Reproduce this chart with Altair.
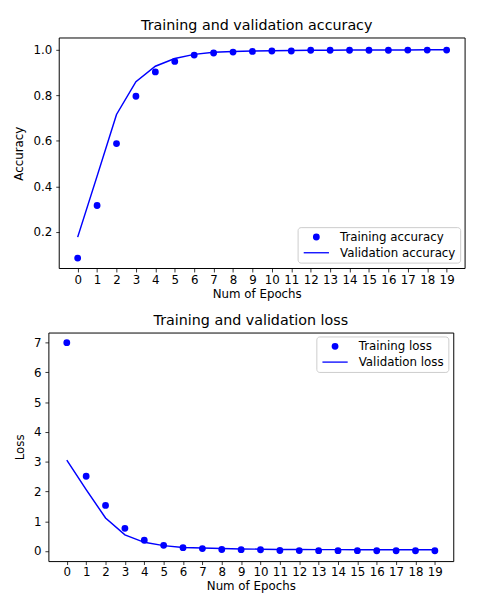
import altair as alt
import pandas as pd

epochs = list(range(20))
train_acc = [0.085, 0.316, 0.588, 0.796, 0.903, 0.949, 0.977, 0.986, 0.990, 0.993,
             0.995, 0.995, 0.998, 0.998, 0.998, 0.998, 0.998, 0.999, 0.999, 0.999]
val_acc = [0.177, 0.445, 0.716, 0.860, 0.928, 0.962, 0.980, 0.989, 0.993, 0.995,
           0.996, 0.997, 0.998, 0.998, 0.999, 0.999, 0.999, 0.999, 1.0, 1.0]
train_loss = [7.0, 2.51, 1.53, 0.76, 0.36, 0.19, 0.11, 0.08, 0.05, 0.045,
              0.04, 0.015, 0.012, 0.01, 0.01, 0.01, 0.008, 0.008, 0.007, 0.007]
val_loss = [3.05, 2.06, 1.11, 0.54, 0.29, 0.18, 0.12, 0.10, 0.08, 0.07,
            0.06, 0.05, 0.05, 0.045, 0.045, 0.04, 0.04, 0.04, 0.04, 0.04]

acc_y_ticks = [0.2, 0.4, 0.6, 0.8, 1.0]
loss_y_ticks = [0, 1, 2, 3, 4, 5, 6, 7]

# axis limits (matplotlib-style 5% margins)
x_limits = [-0.95, 19.95]
acc_y_limits = [0.039, 1.052]
loss_y_limits = [-0.34, 7.34]

BLUE = "#0000ff"
FONT = "DejaVu Sans"
LINE_SHAPE = "M-3.7,-0.19L3.7,-0.19L3.7,0.19L-3.7,0.19Z"


def legend(lx, ly):
    return alt.Legend(title=None, orient="none", legendX=lx, legendY=ly,
                      padding=4, strokeColor="#cccccc",
                      fillColor="white", cornerRadius=3,
                      symbolSize=48, symbolOffset=9,
                      labelOffset=18, rowPadding=3,
                      labelFont=FONT, labelFontSize=12,
                      labelColor="black", symbolFillColor=BLUE,
                      symbolOpacity=1)


def panel(train, val, train_name, val_name, title, ytitle, ylim, yticks, yfmt,
          leg_xy, w, h, x_left_extra=0.0, y_offset=0):
    df_t = pd.DataFrame({"epoch": epochs, "value": train, "series": train_name})
    df_v = pd.DataFrame({"epoch": epochs, "value": val, "series": val_name})
    xdom = [x_limits[0] - x_left_extra, x_limits[1]]
    x = alt.X("epoch:Q",
              scale=alt.Scale(domain=xdom, nice=False, zero=False),
              axis=alt.Axis(values=epochs, format="d", title="Num of Epochs",
                            labelAngle=0, labelPadding=2.5, titlePadding=3,
                            labelOverlap=False, labelFlush=False))
    y = alt.Y("value:Q",
              scale=alt.Scale(domain=ylim, nice=False, zero=False),
              axis=alt.Axis(values=yticks, format=yfmt, title=ytitle,
                            labelPadding=4, titlePadding=7.5, offset=y_offset,
                            labelOverlap=False, labelFlush=False))
    pts = alt.Chart(df_t).mark_point(filled=True, size=48, opacity=1, color=BLUE).encode(
        x=x, y=y,
        shape=alt.Shape("series:N",
                        scale=alt.Scale(domain=[train_name, val_name],
                                        range=["circle", LINE_SHAPE]),
                        legend=legend(*leg_xy)),
    )
    line = alt.Chart(df_v).mark_line(color=BLUE, strokeWidth=1.5).encode(x=x, y=y)
    layers = [pts, line]
    if x_left_extra:
        frame_df = pd.DataFrame({"epoch": [x_limits[0]], "epoch_end": [x_limits[1]],
                                 "value": [ylim[0]], "value_end": [ylim[1]]})
        frame = alt.Chart(frame_df).mark_rect(
            fillOpacity=0, stroke="black", strokeWidth=1
        ).encode(x=x, x2="epoch_end", y=y, y2="value_end")
        layers.append(frame)
        return alt.layer(*layers).properties(
            title=title, width=w, height=h,
            view=alt.ViewBackground(stroke="transparent"))
    return alt.layer(*layers).properties(title=title, width=w, height=h)


# top panel: view starts 11px further left (aligned with bottom panel),
# frame drawn at the matplotlib axes limits
px_per_epoch = 412 / (x_limits[1] - x_limits[0])
extra_px = 11
top = panel(train_acc, val_acc, "Training accuracy", "Validation accuracy",
            "Training and validation accuracy", "Accuracy", acc_y_limits,
            acc_y_ticks, ".1f", (253, 192), 412 + extra_px, 234,
            x_left_extra=extra_px / px_per_epoch, y_offset=-extra_px)
bottom = panel(train_loss, val_loss, "Training loss", "Validation loss",
               "Training and validation loss", "Loss", loss_y_limits,
               loss_y_ticks, "d", (272, 4), 411, 232)

chart = alt.concat(top, bottom, columns=1, spacing=13).properties(
    padding={"left": 4, "top": 5, "right": 5, "bottom": 0}
).resolve_scale(
    shape="independent"
).resolve_legend(
    shape="independent"
).configure_view(
    stroke="black", strokeWidth=1
).configure_axis(
    domain=False, grid=False, tickColor="black", tickSize=3.5, tickWidth=0.8,
    labelFont=FONT, labelFontSize=12, labelColor="black",
    titleFont=FONT, titleFontSize=12, titleFontWeight="normal", titleColor="black"
).configure_title(
    font=FONT, fontSize=14.5, fontWeight="normal", color="black", anchor="middle", offset=0
)

chart.save("out.html", embed_options={"renderer": "svg", "actions": False})
